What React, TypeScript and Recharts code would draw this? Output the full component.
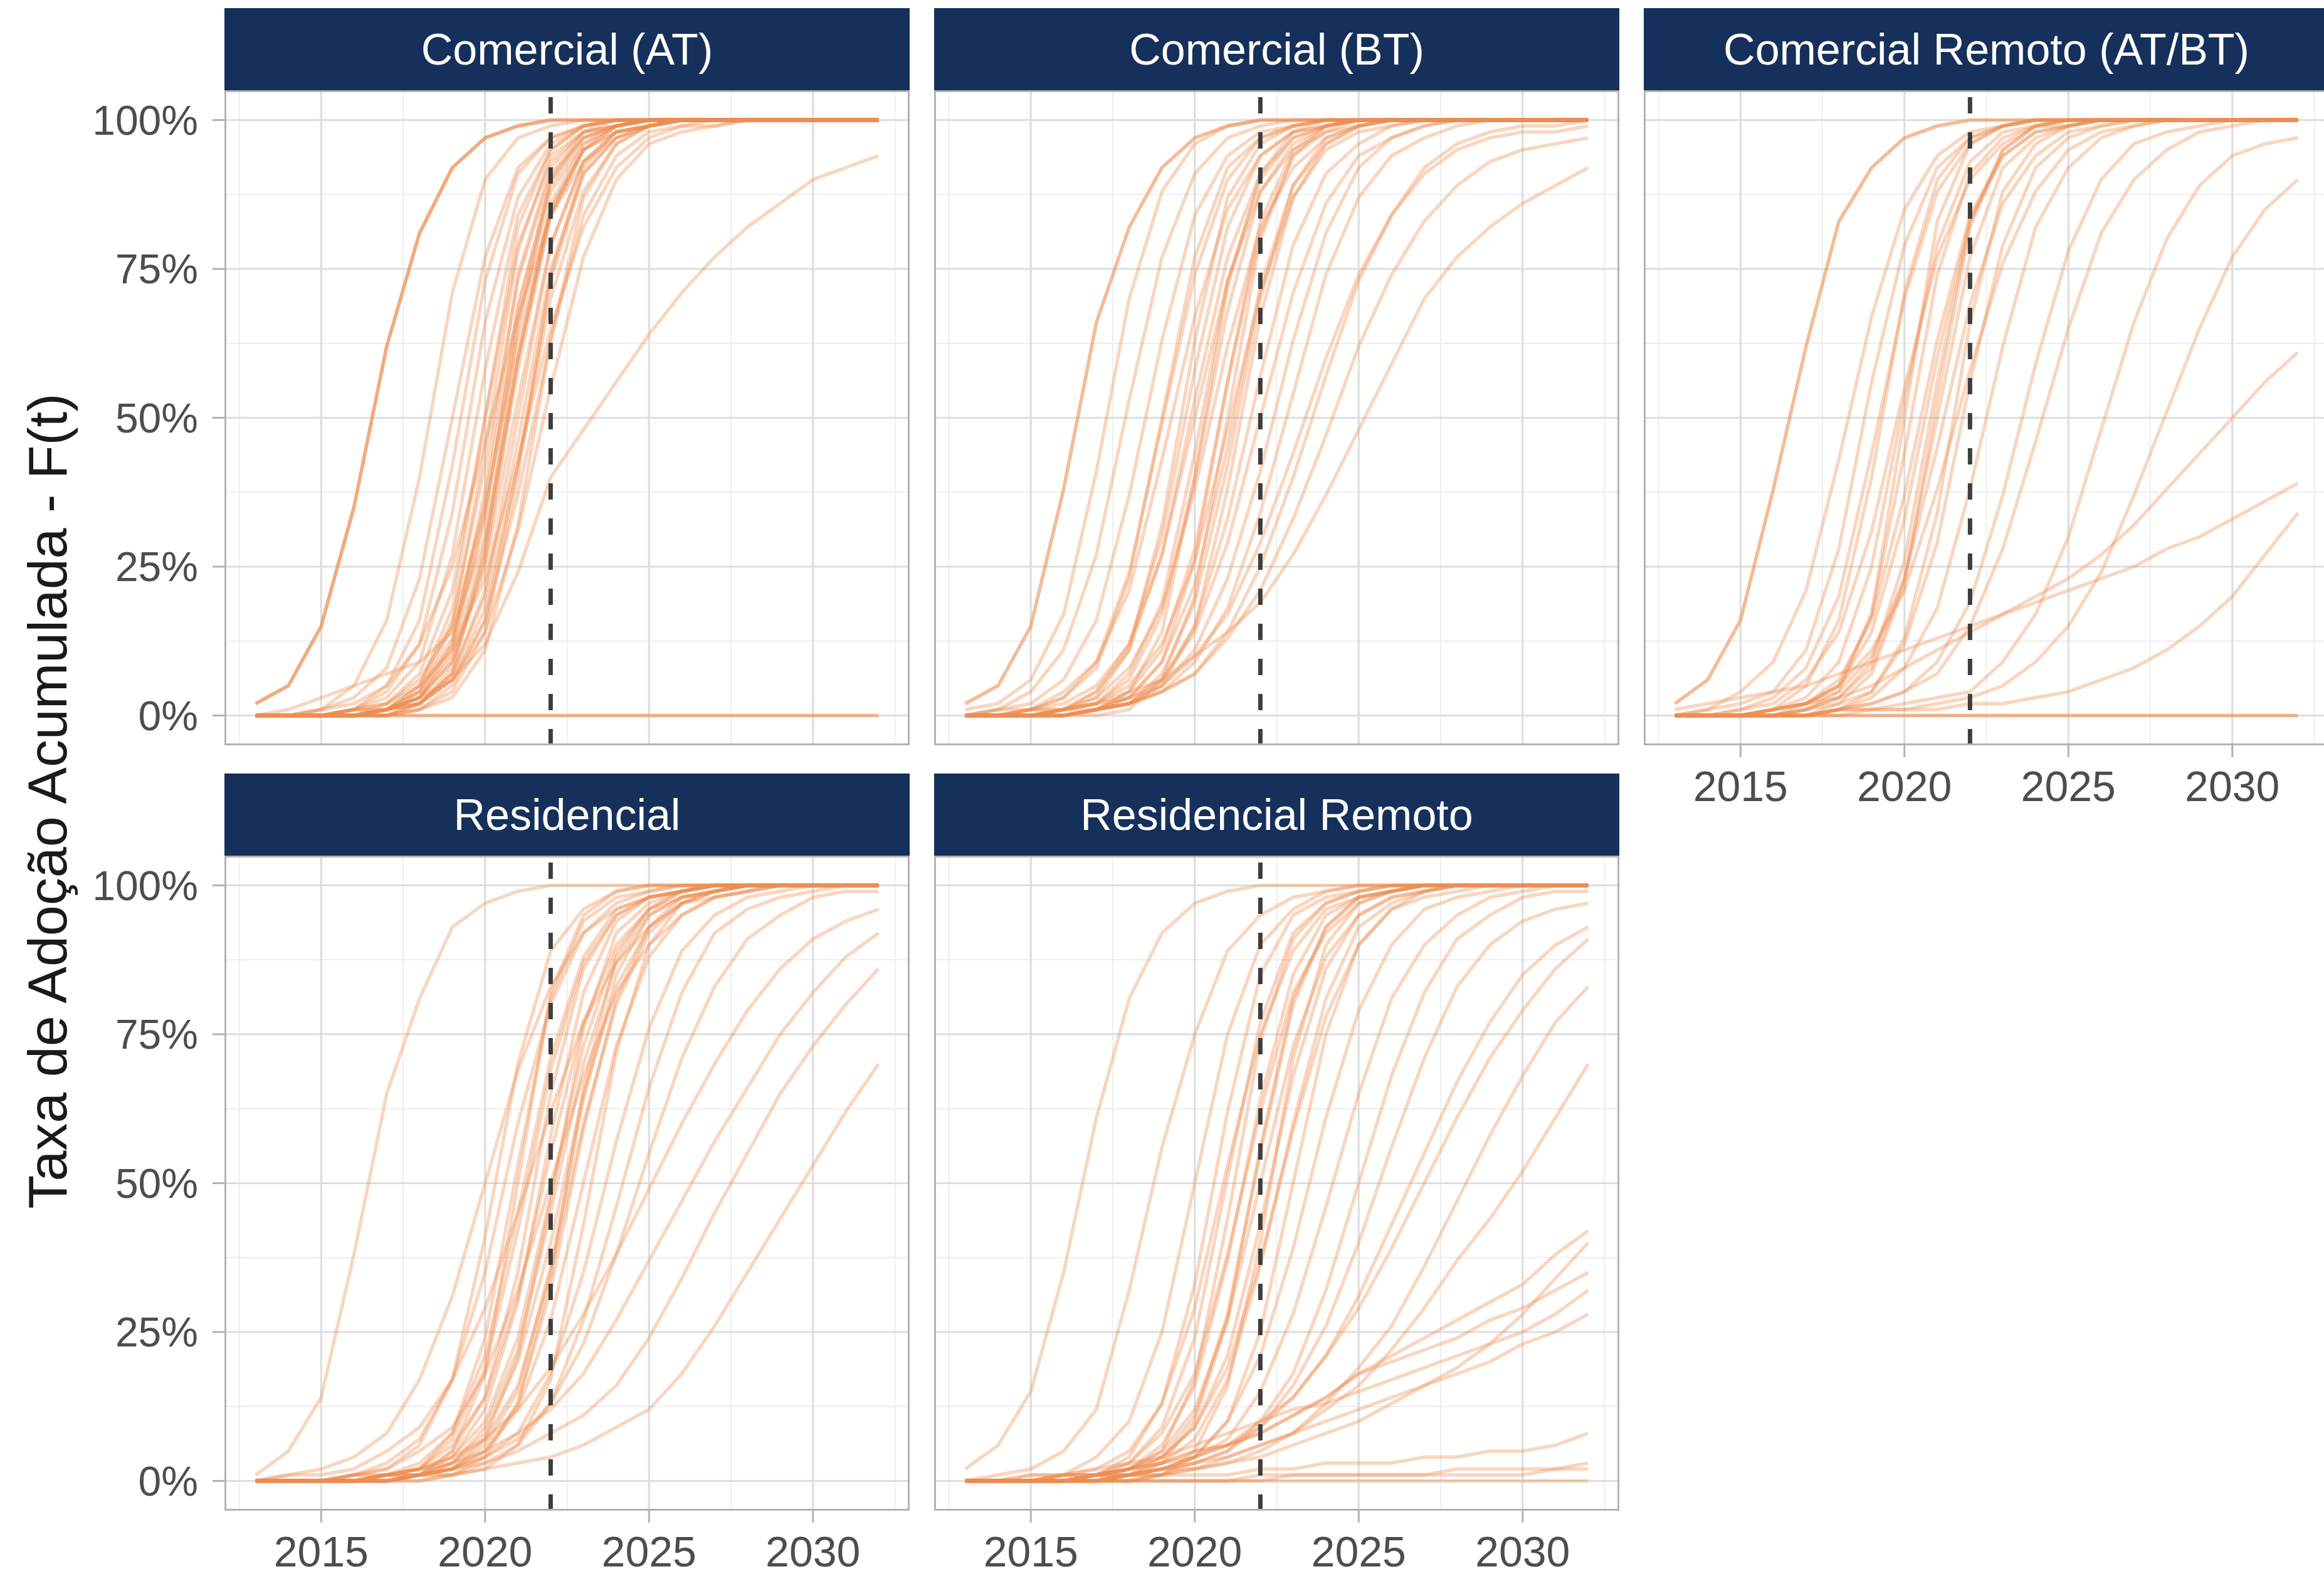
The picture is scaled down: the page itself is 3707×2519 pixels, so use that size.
import React from 'react';
import { LineChart, Line, XAxis, YAxis, CartesianGrid, ReferenceLine } from 'recharts';

const years = [2013, 2014, 2015, 2016, 2017, 2018, 2019, 2020, 2021, 2022, 2023, 2024, 2025, 2026, 2027, 2028, 2029, 2030, 2031, 2032];
const xTicks = [2015, 2020, 2025, 2030];
const xMinor = [2012.5, 2017.5, 2022.5, 2027.5, 2032.5];
const yTicks = [0, 25, 50, 75, 100];
const yMinor = [12.5, 37.5, 62.5, 87.5];
const cutoffYear = 2022;
const yTitle = 'Taxa de Adoção Acumulada - F(t)';

// cumulative adoption (%) per year, one row per curve
const comercialAT: number[][] = [
  [2, 5, 15, 35, 62, 81, 92, 97, 99, 100, 100, 100, 100, 100, 100, 100, 100, 100, 100, 100],
  [2, 5, 15, 35, 62, 81, 92, 97, 99, 100, 100, 100, 100, 100, 100, 100, 100, 100, 100, 100],
  [2, 5, 15, 35, 62, 81, 92, 97, 99, 100, 100, 100, 100, 100, 100, 100, 100, 100, 100, 100],
  [0, 0, 1, 5, 16, 40, 71, 90, 97, 99, 100, 100, 100, 100, 100, 100, 100, 100, 100, 100],
  [0, 0, 1, 3, 8, 23, 50, 77, 92, 97, 99, 100, 100, 100, 100, 100, 100, 100, 100, 100],
  [0, 0, 0, 1, 5, 16, 42, 73, 91, 97, 99, 100, 100, 100, 100, 100, 100, 100, 100, 100],
  [0, 0, 0, 1, 4, 12, 34, 66, 87, 96, 99, 100, 100, 100, 100, 100, 100, 100, 100, 100],
  [0, 0, 0, 1, 3, 9, 27, 58, 84, 95, 99, 100, 100, 100, 100, 100, 100, 100, 100, 100],
  [0, 0, 0, 0, 2, 7, 21, 50, 79, 93, 98, 99, 100, 100, 100, 100, 100, 100, 100, 100],
  [0, 0, 0, 0, 1, 5, 16, 42, 73, 91, 97, 99, 100, 100, 100, 100, 100, 100, 100, 100],
  [0, 0, 0, 0, 1, 3, 12, 38, 74, 92, 98, 99, 100, 100, 100, 100, 100, 100, 100, 100],
  [0, 0, 0, 0, 1, 4, 12, 34, 66, 88, 96, 99, 100, 100, 100, 100, 100, 100, 100, 100],
  [0, 0, 0, 0, 0, 2, 7, 28, 65, 90, 98, 100, 100, 100, 100, 100, 100, 100, 100, 100],
  [0, 0, 0, 0, 1, 3, 9, 27, 58, 84, 95, 99, 100, 100, 100, 100, 100, 100, 100, 100],
  [0, 0, 0, 0, 1, 3, 9, 25, 53, 79, 93, 98, 99, 100, 100, 100, 100, 100, 100, 100],
  [0, 0, 0, 0, 0, 2, 7, 21, 50, 79, 93, 98, 99, 100, 100, 100, 100, 100, 100, 100],
  [0, 0, 0, 0, 0, 1, 5, 16, 42, 73, 91, 97, 99, 100, 100, 100, 100, 100, 100, 100],
  [0, 0, 0, 0, 1, 2, 6, 16, 37, 63, 84, 94, 98, 99, 100, 100, 100, 100, 100, 100],
  [0, 0, 0, 1, 1, 2, 6, 14, 31, 55, 77, 90, 96, 98, 99, 100, 100, 100, 100, 100],
  [0, 0, 1, 2, 5, 12, 25, 46, 67, 84, 93, 97, 99, 100, 100, 100, 100, 100, 100, 100],
  [0, 0, 0, 1, 2, 5, 11, 23, 43, 65, 82, 92, 97, 99, 99, 100, 100, 100, 100, 100],
  [0, 1, 3, 5, 7, 9, 14, 30, 60, 85, 95, 98, 99, 100, 100, 100, 100, 100, 100, 100],
  [0, 0, 0, 0, 1, 5, 18, 50, 82, 95, 99, 100, 100, 100, 100, 100, 100, 100, 100, 100],
  [0, 0, 0, 0, 1, 3, 10, 29, 60, 84, 95, 99, 100, 100, 100, 100, 100, 100, 100, 100],
  [0, 0, 0, 0, 0, 1, 3, 11, 32, 63, 87, 96, 99, 100, 100, 100, 100, 100, 100, 100],
  [0, 0, 0, 0, 1, 4, 15, 45, 78, 94, 98, 99, 100, 100, 100, 100, 100, 100, 100, 100],
  [0, 0, 0, 0, 1, 3, 11, 33, 68, 90, 97, 99, 100, 100, 100, 100, 100, 100, 100, 100],
  [0, 0, 0, 0, 0, 2, 8, 26, 60, 86, 96, 99, 100, 100, 100, 100, 100, 100, 100, 100],
  [0, 0, 0, 0, 1, 2, 7, 20, 46, 75, 91, 97, 99, 100, 100, 100, 100, 100, 100, 100],
  [0, 0, 0, 0, 0, 1, 4, 14, 40, 74, 92, 98, 99, 100, 100, 100, 100, 100, 100, 100],
  [0, 0, 0, 1, 2, 6, 15, 35, 63, 85, 95, 98, 99, 100, 100, 100, 100, 100, 100, 100],
  [0, 0, 0, 0, 1, 4, 13, 36, 69, 89, 97, 99, 100, 100, 100, 100, 100, 100, 100, 100],
  [0, 0, 0, 0, 1, 2, 6, 18, 42, 70, 88, 96, 99, 100, 100, 100, 100, 100, 100, 100],
  [0, 0, 0, 1, 1, 3, 6, 12, 24, 40, 48, 56, 64, 71, 77, 82, 86, 90, 92, 94],
  [0, 0, 0, 0, 0, 0, 0, 0, 0, 0, 0, 0, 0, 0, 0, 0, 0, 0, 0, 0],
  [0, 0, 0, 0, 0, 0, 0, 0, 0, 0, 0, 0, 0, 0, 0, 0, 0, 0, 0, 0],
];

const comercialBT: number[][] = [
  [2, 5, 15, 38, 66, 82, 92, 97, 99, 100, 100, 100, 100, 100, 100, 100, 100, 100, 100, 100],
  [2, 5, 15, 38, 66, 82, 92, 97, 99, 100, 100, 100, 100, 100, 100, 100, 100, 100, 100, 100],
  [1, 2, 6, 17, 41, 70, 88, 96, 99, 100, 100, 100, 100, 100, 100, 100, 100, 100, 100, 100],
  [0, 1, 4, 11, 27, 53, 77, 91, 97, 99, 100, 100, 100, 100, 100, 100, 100, 100, 100, 100],
  [0, 1, 2, 6, 16, 37, 63, 84, 94, 98, 99, 100, 100, 100, 100, 100, 100, 100, 100, 100],
  [0, 0, 1, 3, 8, 23, 50, 77, 92, 97, 99, 100, 100, 100, 100, 100, 100, 100, 100, 100],
  [0, 1, 1, 4, 9, 21, 43, 67, 85, 94, 98, 99, 100, 100, 100, 100, 100, 100, 100, 100],
  [0, 0, 0, 1, 3, 11, 32, 63, 87, 96, 99, 100, 100, 100, 100, 100, 100, 100, 100, 100],
  [0, 0, 1, 1, 4, 11, 27, 53, 77, 91, 97, 99, 100, 100, 100, 100, 100, 100, 100, 100],
  [0, 0, 0, 1, 2, 7, 19, 44, 73, 90, 97, 99, 100, 100, 100, 100, 100, 100, 100, 100],
  [0, 0, 0, 1, 3, 8, 18, 38, 62, 82, 92, 97, 99, 100, 100, 100, 100, 100, 100, 100],
  [0, 0, 0, 0, 1, 3, 9, 26, 56, 83, 95, 99, 100, 100, 100, 100, 100, 100, 100, 100],
  [0, 0, 0, 0, 1, 3, 9, 22, 45, 72, 89, 96, 99, 100, 100, 100, 100, 100, 100, 100],
  [0, 0, 0, 0, 1, 2, 5, 15, 38, 67, 87, 96, 99, 100, 100, 100, 100, 100, 100, 100],
  [0, 0, 0, 0, 1, 2, 6, 15, 33, 57, 79, 91, 96, 99, 100, 100, 100, 100, 100, 100],
  [0, 0, 0, 0, 1, 3, 6, 14, 29, 50, 71, 86, 94, 97, 99, 100, 100, 100, 100, 100],
  [0, 0, 0, 0, 1, 2, 5, 11, 23, 41, 63, 81, 92, 97, 99, 100, 100, 100, 100, 100],
  [0, 0, 0, 0, 1, 2, 4, 9, 18, 34, 54, 74, 87, 94, 97, 99, 100, 100, 100, 100],
  [0, 0, 0, 0, 1, 2, 4, 7, 14, 25, 40, 57, 73, 84, 92, 96, 98, 99, 99, 100],
  [0, 0, 0, 1, 2, 3, 5, 10, 17, 29, 44, 60, 74, 84, 91, 95, 97, 98, 98, 99],
  [0, 0, 0, 1, 1, 2, 4, 7, 13, 21, 33, 47, 62, 74, 83, 89, 93, 95, 96, 97],
  [0, 0, 1, 1, 2, 4, 6, 10, 14, 19, 27, 37, 48, 59, 70, 77, 82, 86, 89, 92],
  [0, 0, 1, 2, 5, 12, 27, 50, 73, 88, 95, 98, 99, 100, 100, 100, 100, 100, 100, 100],
  [0, 0, 0, 0, 0, 1, 6, 20, 50, 80, 94, 99, 100, 100, 100, 100, 100, 100, 100, 100],
  [0, 0, 0, 0, 1, 4, 14, 40, 72, 91, 98, 99, 100, 100, 100, 100, 100, 100, 100, 100],
  [0, 0, 1, 3, 9, 24, 49, 74, 90, 97, 99, 100, 100, 100, 100, 100, 100, 100, 100, 100],
  [0, 0, 0, 1, 4, 12, 30, 58, 82, 94, 98, 100, 100, 100, 100, 100, 100, 100, 100, 100],
  [0, 0, 0, 1, 2, 6, 17, 40, 68, 88, 96, 99, 100, 100, 100, 100, 100, 100, 100, 100],
  [0, 0, 0, 0, 1, 4, 11, 28, 56, 81, 94, 98, 100, 100, 100, 100, 100, 100, 100, 100],
  [0, 0, 0, 0, 1, 2, 7, 19, 42, 70, 89, 97, 99, 100, 100, 100, 100, 100, 100, 100],
  [0, 0, 0, 1, 2, 5, 12, 26, 48, 71, 87, 95, 98, 99, 100, 100, 100, 100, 100, 100],
];

const comercialRemoto: number[][] = [
  [2, 6, 16, 38, 62, 83, 92, 97, 99, 100, 100, 100, 100, 100, 100, 100, 100, 100, 100, 100],
  [2, 6, 16, 38, 62, 83, 92, 97, 99, 100, 100, 100, 100, 100, 100, 100, 100, 100, 100, 100],
  [0, 1, 4, 9, 21, 43, 67, 85, 94, 98, 99, 100, 100, 100, 100, 100, 100, 100, 100, 100],
  [0, 1, 2, 4, 11, 28, 56, 79, 92, 97, 99, 100, 100, 100, 100, 100, 100, 100, 100, 100],
  [0, 0, 0, 1, 5, 16, 40, 71, 90, 97, 99, 100, 100, 100, 100, 100, 100, 100, 100, 100],
  [0, 0, 1, 2, 6, 14, 31, 55, 77, 90, 96, 99, 99, 100, 100, 100, 100, 100, 100, 100],
  [0, 0, 0, 0, 2, 5, 17, 44, 74, 91, 97, 99, 100, 100, 100, 100, 100, 100, 100, 100],
  [0, 0, 0, 1, 2, 6, 16, 37, 63, 84, 94, 98, 99, 100, 100, 100, 100, 100, 100, 100],
  [0, 0, 0, 0, 0, 2, 7, 22, 53, 82, 95, 99, 100, 100, 100, 100, 100, 100, 100, 100],
  [0, 0, 0, 1, 2, 4, 10, 23, 45, 69, 86, 94, 98, 99, 100, 100, 100, 100, 100, 100],
  [0, 0, 0, 0, 0, 1, 4, 13, 34, 66, 88, 96, 99, 100, 100, 100, 100, 100, 100, 100],
  [0, 0, 0, 0, 1, 2, 4, 12, 29, 56, 79, 92, 97, 99, 100, 100, 100, 100, 100, 100],
  [0, 0, 0, 0, 1, 4, 17, 50, 83, 96, 99, 100, 100, 100, 100, 100, 100, 100, 100, 100],
  [0, 0, 0, 0, 1, 3, 8, 23, 50, 77, 92, 97, 99, 100, 100, 100, 100, 100, 100, 100],
  [0, 0, 0, 0, 0, 1, 3, 8, 18, 38, 62, 82, 92, 97, 99, 100, 100, 100, 100, 100],
  [0, 0, 0, 0, 0, 1, 2, 4, 9, 19, 37, 59, 78, 90, 96, 98, 99, 100, 100, 100],
  [0, 0, 0, 0, 0, 1, 2, 4, 7, 15, 28, 46, 65, 81, 90, 95, 98, 99, 100, 100],
  [0, 0, 0, 0, 0, 1, 1, 2, 3, 4, 9, 17, 30, 48, 66, 80, 89, 94, 96, 97],
  [0, 0, 0, 0, 0, 1, 1, 1, 2, 3, 5, 9, 15, 24, 37, 51, 65, 77, 85, 90],
  [0, 0, 0, 1, 2, 3, 5, 8, 11, 14, 17, 20, 23, 27, 32, 38, 44, 50, 56, 61],
  [1, 2, 3, 4, 5, 7, 9, 11, 13, 15, 17, 19, 21, 23, 25, 28, 30, 33, 36, 39],
  [0, 0, 0, 0, 0, 0, 1, 1, 1, 2, 2, 3, 4, 6, 8, 11, 15, 20, 27, 34],
  [0, 0, 1, 3, 8, 20, 44, 70, 88, 96, 99, 100, 100, 100, 100, 100, 100, 100, 100, 100],
  [0, 0, 0, 1, 3, 9, 25, 53, 79, 93, 98, 99, 100, 100, 100, 100, 100, 100, 100, 100],
  [0, 0, 0, 1, 2, 5, 14, 33, 60, 83, 94, 98, 99, 100, 100, 100, 100, 100, 100, 100],
  [0, 0, 0, 0, 1, 3, 9, 26, 56, 83, 95, 99, 100, 100, 100, 100, 100, 100, 100, 100],
  [0, 0, 0, 1, 2, 5, 11, 21, 38, 58, 76, 88, 95, 98, 99, 100, 100, 100, 100, 100],
  [0, 0, 0, 0, 0, 0, 0, 0, 0, 0, 0, 0, 0, 0, 0, 0, 0, 0, 0, 0],
  [0, 0, 0, 0, 0, 0, 0, 0, 0, 0, 0, 0, 0, 0, 0, 0, 0, 0, 0, 0],
];

const residencial: number[][] = [
  [1, 5, 14, 38, 65, 81, 93, 97, 99, 100, 100, 100, 100, 100, 100, 100, 100, 100, 100, 100],
  [0, 0, 0, 1, 2, 6, 17, 41, 70, 89, 96, 99, 100, 100, 100, 100, 100, 100, 100, 100],
  [0, 0, 0, 1, 3, 7, 17, 35, 60, 80, 92, 97, 99, 100, 100, 100, 100, 100, 100, 100],
  [0, 0, 0, 0, 1, 2, 8, 24, 53, 81, 94, 98, 99, 100, 100, 100, 100, 100, 100, 100],
  [0, 0, 0, 0, 1, 3, 8, 21, 45, 71, 88, 96, 98, 99, 100, 100, 100, 100, 100, 100],
  [0, 0, 0, 0, 0, 1, 5, 14, 35, 65, 86, 95, 98, 99, 100, 100, 100, 100, 100, 100],
  [0, 0, 0, 0, 1, 2, 6, 14, 31, 55, 77, 90, 96, 98, 99, 100, 100, 100, 100, 100],
  [0, 0, 0, 0, 0, 1, 2, 7, 21, 47, 76, 92, 97, 99, 100, 100, 100, 100, 100, 100],
  [0, 0, 0, 0, 0, 1, 3, 8, 20, 40, 65, 83, 93, 97, 99, 100, 100, 100, 100, 100],
  [0, 0, 0, 0, 0, 1, 2, 5, 13, 32, 59, 81, 93, 98, 99, 100, 100, 100, 100, 100],
  [0, 0, 0, 0, 0, 1, 2, 5, 12, 27, 50, 73, 88, 95, 98, 99, 100, 100, 100, 100],
  [0, 0, 0, 0, 0, 0, 1, 2, 6, 17, 43, 72, 90, 97, 99, 100, 100, 100, 100, 100],
  [0, 0, 0, 0, 0, 1, 2, 4, 8, 18, 35, 57, 76, 89, 95, 98, 99, 100, 100, 100],
  [0, 0, 0, 0, 0, 1, 1, 3, 6, 13, 27, 46, 66, 82, 92, 96, 98, 99, 100, 100],
  [0, 1, 1, 2, 5, 9, 17, 29, 45, 62, 77, 87, 93, 97, 98, 99, 100, 100, 100, 100],
  [0, 1, 2, 4, 8, 17, 31, 50, 69, 83, 92, 96, 98, 99, 100, 100, 100, 100, 100, 100],
  [0, 0, 0, 1, 2, 5, 9, 18, 32, 50, 68, 82, 90, 95, 98, 99, 100, 100, 100, 100],
  [0, 0, 0, 0, 1, 1, 2, 4, 7, 13, 23, 38, 55, 71, 83, 91, 95, 98, 99, 99],
  [0, 0, 0, 1, 1, 2, 4, 7, 12, 19, 28, 38, 49, 60, 70, 79, 86, 91, 94, 96],
  [0, 0, 0, 0, 1, 2, 3, 5, 8, 12, 18, 27, 37, 47, 57, 66, 75, 82, 88, 92],
  [0, 0, 0, 0, 1, 1, 2, 3, 5, 8, 11, 16, 24, 34, 45, 55, 65, 73, 80, 86],
  [0, 0, 0, 1, 1, 1, 1, 2, 3, 4, 6, 9, 12, 18, 26, 35, 44, 53, 62, 70],
  [0, 0, 0, 0, 0, 1, 5, 18, 50, 82, 95, 99, 100, 100, 100, 100, 100, 100, 100, 100],
  [0, 0, 0, 0, 0, 0, 1, 4, 13, 34, 66, 88, 96, 99, 100, 100, 100, 100, 100, 100],
  [0, 0, 0, 0, 1, 2, 7, 19, 42, 69, 87, 95, 98, 99, 100, 100, 100, 100, 100, 100],
  [0, 0, 0, 0, 0, 1, 4, 12, 30, 58, 82, 94, 98, 99, 100, 100, 100, 100, 100, 100],
  [0, 0, 0, 0, 1, 2, 4, 10, 24, 48, 73, 89, 96, 99, 100, 100, 100, 100, 100, 100],
  [0, 0, 0, 0, 0, 1, 3, 9, 22, 45, 70, 87, 95, 98, 99, 100, 100, 100, 100, 100],
  [0, 0, 0, 0, 1, 1, 3, 7, 16, 35, 60, 80, 92, 97, 99, 100, 100, 100, 100, 100],
  [0, 0, 0, 0, 0, 1, 2, 6, 15, 36, 64, 85, 95, 98, 99, 100, 100, 100, 100, 100],
];

const residencialRemoto: number[][] = [
  [2, 6, 15, 35, 61, 81, 92, 97, 99, 100, 100, 100, 100, 100, 100, 100, 100, 100, 100, 100],
  [0, 1, 2, 5, 12, 32, 56, 75, 89, 95, 98, 99, 100, 100, 100, 100, 100, 100, 100, 100],
  [0, 0, 0, 1, 4, 10, 25, 50, 75, 90, 96, 99, 100, 100, 100, 100, 100, 100, 100, 100],
  [0, 0, 0, 0, 1, 4, 13, 33, 62, 85, 95, 98, 99, 100, 100, 100, 100, 100, 100, 100],
  [0, 0, 0, 1, 2, 5, 13, 29, 53, 75, 89, 96, 98, 99, 100, 100, 100, 100, 100, 100],
  [0, 0, 0, 0, 0, 2, 5, 17, 44, 74, 91, 97, 99, 100, 100, 100, 100, 100, 100, 100],
  [0, 0, 0, 0, 1, 3, 8, 18, 38, 62, 82, 92, 97, 99, 100, 100, 100, 100, 100, 100],
  [0, 0, 0, 0, 0, 1, 3, 10, 27, 56, 81, 93, 98, 99, 100, 100, 100, 100, 100, 100],
  [0, 0, 0, 0, 1, 2, 5, 12, 27, 50, 73, 88, 95, 98, 99, 100, 100, 100, 100, 100],
  [0, 0, 0, 0, 0, 0, 1, 5, 16, 40, 71, 90, 97, 99, 100, 100, 100, 100, 100, 100],
  [0, 0, 0, 0, 1, 2, 4, 9, 19, 37, 59, 78, 90, 96, 98, 99, 100, 100, 100, 100],
  [0, 0, 0, 0, 0, 0, 1, 4, 10, 25, 50, 75, 90, 96, 99, 100, 100, 100, 100, 100],
  [0, 0, 0, 0, 0, 1, 2, 4, 10, 21, 39, 61, 79, 90, 96, 98, 99, 100, 100, 100],
  [0, 0, 0, 0, 0, 1, 2, 4, 7, 15, 28, 46, 65, 81, 90, 95, 98, 99, 100, 100],
  [0, 0, 0, 0, 0, 1, 1, 3, 5, 10, 18, 32, 50, 68, 82, 91, 95, 98, 99, 99],
  [0, 0, 0, 0, 0, 1, 2, 3, 5, 9, 16, 26, 40, 56, 71, 83, 90, 94, 96, 97],
  [0, 0, 0, 1, 1, 1, 2, 4, 6, 9, 14, 21, 31, 43, 55, 67, 77, 85, 90, 93],
  [0, 0, 1, 1, 1, 2, 3, 4, 6, 10, 14, 21, 29, 39, 50, 61, 71, 79, 86, 91],
  [0, 0, 0, 0, 1, 1, 2, 2, 4, 6, 8, 13, 19, 26, 36, 47, 58, 68, 77, 83],
  [0, 0, 0, 0, 1, 1, 1, 2, 3, 5, 8, 12, 16, 22, 29, 37, 44, 52, 61, 70],
  [0, 0, 0, 1, 1, 2, 3, 5, 6, 8, 11, 14, 18, 21, 24, 27, 30, 33, 38, 42],
  [0, 0, 0, 0, 0, 1, 1, 2, 3, 4, 6, 8, 10, 13, 16, 19, 23, 28, 34, 40],
  [0, 0, 0, 1, 1, 2, 3, 5, 6, 8, 11, 14, 18, 20, 22, 24, 27, 29, 32, 35],
  [0, 0, 1, 1, 2, 3, 4, 6, 8, 10, 12, 13, 15, 17, 19, 21, 23, 25, 28, 32],
  [0, 0, 0, 0, 1, 1, 2, 3, 4, 6, 8, 10, 12, 14, 16, 18, 20, 23, 25, 28],
  [0, 0, 0, 0, 0, 0, 1, 1, 1, 2, 2, 3, 3, 3, 4, 4, 5, 5, 6, 8],
  [0, 0, 0, 0, 0, 0, 0, 0, 0, 1, 1, 1, 1, 1, 1, 2, 2, 2, 2, 3],
  [0, 0, 0, 0, 0, 0, 0, 0, 0, 0, 1, 1, 1, 1, 1, 1, 1, 1, 2, 2],
  [0, 0, 0, 0, 0, 0, 0, 0, 0, 0, 0, 0, 0, 0, 0, 0, 0, 0, 0, 0],
  [0, 0, 0, 0, 1, 3, 9, 24, 51, 77, 92, 97, 99, 100, 100, 100, 100, 100, 100, 100],
  [0, 0, 0, 0, 1, 2, 6, 16, 37, 64, 85, 95, 98, 99, 100, 100, 100, 100, 100, 100],
  [0, 0, 0, 0, 0, 1, 4, 11, 28, 55, 80, 93, 98, 99, 100, 100, 100, 100, 100, 100],
  [0, 0, 0, 0, 1, 2, 4, 9, 21, 43, 68, 86, 95, 98, 99, 100, 100, 100, 100, 100],
  [0, 0, 0, 0, 0, 1, 3, 7, 17, 36, 60, 81, 93, 97, 99, 100, 100, 100, 100, 100],
];

const FONT = '"Liberation Sans", Arial, Helvetica, sans-serif';
const LINE_COLOR = '#EE8E50';
const STRIP_COLOR = '#15305A';
const PW = 1093;
const PH = 1045;
const YW = 230;
const XH = 140;
const STRIP_H = 131;

const toRows = (curves: number[][]) =>
  years.map((year, i) => {
    const row: Record<string, number> = { year };
    curves.forEach((c, j) => {
      row['s' + j] = c[i];
    });
    return row;
  });

type PanelProps = {
  title: string;
  curves: number[][];
  left: number;
  top: number;
  showX: boolean;
  showY: boolean;
};

function Panel({ title, curves, left, top, showX, showY }: PanelProps) {
  const w = PW + (showY ? YW : 0);
  const h = PH + (showX ? XH : 0);
  const data = toRows(curves);
  return (
    <>
      <div
        style={{
          position: 'absolute',
          left,
          top: top - STRIP_H,
          width: PW,
          height: STRIP_H,
          background: STRIP_COLOR,
          color: '#FFFFFF',
          fontSize: 70,
          display: 'flex',
          alignItems: 'center',
          justifyContent: 'center',
          whiteSpace: 'nowrap',
        }}
      >
        {title}
      </div>
      <div style={{ position: 'absolute', left: left - (showY ? YW : 0), top }}>
        <LineChart width={w} height={h} data={data} margin={{ top: 0, right: 0, bottom: 0, left: 0 }}>
          <CartesianGrid verticalValues={xMinor} horizontalValues={yMinor} stroke="#EDEDED" strokeWidth={1.8} />
          <CartesianGrid verticalValues={xTicks} horizontalValues={yTicks} stroke="#DEDEDE" strokeWidth={3.2} />
          <XAxis
            dataKey="year"
            type="number"
            domain={[2012.05, 2032.95]}
            allowDataOverflow
            ticks={xTicks}
            hide={!showX}
            height={XH}
            axisLine={false}
            tickSize={19}
            tickMargin={22}
            tickLine={{ stroke: '#B3B3B3', strokeWidth: 3 }}
            tick={{ fill: '#4D4D4D', fontSize: 68, fontFamily: FONT }}
          />
          <YAxis
            type="number"
            domain={[-5, 105]}
            allowDataOverflow
            ticks={yTicks}
            hide={!showY}
            width={YW}
            axisLine={false}
            tickSize={19}
            tickMargin={23}
            tickLine={{ stroke: '#B3B3B3', strokeWidth: 3 }}
            tick={{ fill: '#4D4D4D', fontSize: 66, fontFamily: FONT }}
            tickFormatter={(v: number) => `${v}%`}
          />
          {curves.map((_, j) => (
            <Line
              key={j}
              type="linear"
              dataKey={'s' + j}
              stroke={LINE_COLOR}
              strokeOpacity={0.36}
              strokeWidth={5.5}
              dot={false}
              activeDot={false}
              isAnimationActive={false}
            />
          ))}
          <ReferenceLine x={cutoffYear} stroke="#3D3D3D" strokeWidth={7} strokeDasharray="26 30" />
        </LineChart>
      </div>
      <div
        style={{
          position: 'absolute',
          left,
          top,
          width: PW,
          height: PH,
          border: '3.5px solid #B3B3B3',
          boxSizing: 'border-box',
          pointerEvents: 'none',
        }}
      />
    </>
  );
}

export default function App() {
  const colLeft = [358, 1490, 2622];
  const rowTop = [144, 1365];
  return (
    <div
      style={{
        position: 'absolute',
        left: 0,
        top: 0,
        width: 3707,
        height: 2519,
        overflow: 'hidden',
        background: '#FFFFFF',
        fontFamily: FONT,
      }}
    >
      <Panel title="Comercial (AT)" curves={comercialAT} left={colLeft[0]} top={rowTop[0]} showX={false} showY />
      <Panel title="Comercial (BT)" curves={comercialBT} left={colLeft[1]} top={rowTop[0]} showX={false} showY={false} />
      <Panel title="Comercial Remoto (AT/BT)" curves={comercialRemoto} left={colLeft[2]} top={rowTop[0]} showX showY={false} />
      <Panel title="Residencial" curves={residencial} left={colLeft[0]} top={rowTop[1]} showX showY />
      <Panel title="Residencial Remoto" curves={residencialRemoto} left={colLeft[1]} top={rowTop[1]} showX showY={false} />
      <div
        style={{
          position: 'absolute',
          left: 76,
          top: 1278,
          transform: 'translate(-50%, -50%) rotate(-90deg)',
          whiteSpace: 'nowrap',
          fontSize: 88,
          lineHeight: 1,
          color: '#1A1A1A',
        }}
      >
        {yTitle}
      </div>
    </div>
  );
}
